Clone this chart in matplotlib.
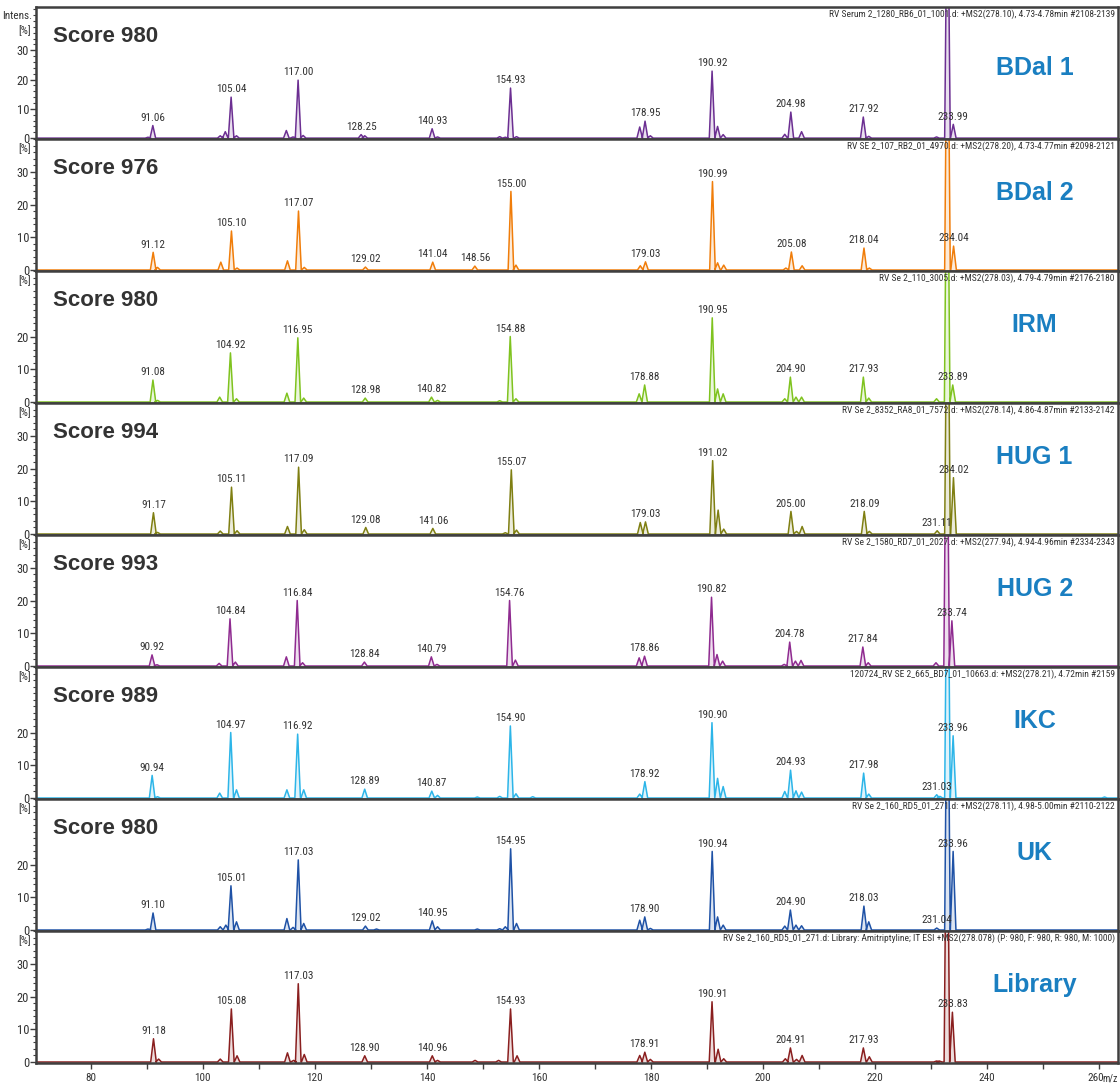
"""Stacked MS2 spectra of amitriptyline from several labs compared with the library spectrum."""

import matplotlib.pyplot as plt
import numpy as np
from matplotlib import font_manager
from matplotlib.ticker import FixedLocator, MultipleLocator
from matplotlib.transforms import ScaledTranslation

# narrow face for the small instrument-style labels, if one is installed
installed = {f.name for f in font_manager.fontManager.ttflist}
narrow_candidates = ["Liberation Sans Narrow", "Roboto Condensed", "Open Sans Condensed",
                     "Noto Sans Condensed", "DejaVu Sans Condensed", "Liberation Sans"]
narrow = next((name for name in narrow_candidates if name in installed), "DejaVu Sans")
plt.rcParams["font.family"] = [narrow, "DejaVu Sans"]
BOLD_FAMILY = ["Liberation Sans", "DejaVu Sans"]

# ---- data -------------------------------------------------------------
panel_names = ["BDal 1", "BDal 2", "IRM", "HUG 1", "HUG 2", "IKC", "UK", "Library"]
panel_scores = [980, 976, 980, 994, 993, 989, 980, None]
panel_headers = [
    "RV Serum 2_1280_RB6_01_1001.d: +MS2(278.10), 4.73-4.78min #2108-2139",
    "RV SE 2_107_RB2_01_4970.d: +MS2(278.20), 4.73-4.77min #2098-2121",
    "RV Se 2_110_3005.d: +MS2(278.03), 4.79-4.79min #2176-2180",
    "RV Se 2_8352_RA8_01_7572.d: +MS2(278.14), 4.86-4.87min #2133-2142",
    "RV Se 2_1580_RD7_01_2027.d: +MS2(277.94), 4.94-4.96min #2334-2343",
    "120724_RV SE 2_665_BD7_01_10663.d: +MS2(278.21), 4.72min #2159",
    "RV Se 2_160_RD5_01_271.d: +MS2(278.11), 4.98-5.00min #2110-2122",
    "RV Se 2_160_RD5_01_271.d: Library: Amitriptyline; IT ESI +MS2(278.078) "
    "(P: 980, F: 980, R: 980, M: 1000)",
]
panel_colors = ["#6c2f92", "#f07d0a", "#7fc31f", "#7f7f12",
                "#8f2b90", "#2cb5e8", "#1f52a6", "#8a1f1f"]
panel_ymax = [44.8, 40, 40, 40, 40, 40, 40, 40]
panel_yticks = [[0, 10, 20, 30], [0, 10, 20, 30], [0, 10, 20], [0, 10, 20, 30],
                [0, 10, 20, 30], [0, 10, 20], [0, 10, 20], [0, 10, 20, 30]]

# labelled peaks (m/z, intensity %)
bdal1_labeled = [(91.06, 4.3), (105.04, 14.0), (117.00, 19.8), (128.25, 1.2),
                 (140.93, 3.2), (154.93, 17.1), (178.95, 5.8), (190.92, 22.9),
                 (204.98, 8.9), (217.92, 7.2), (233.99, 4.7)]
bdal2_labeled = [(91.12, 5.4), (105.10, 11.9), (117.07, 18.0), (129.02, 0.9),
                 (141.04, 2.4), (148.56, 1.2), (155.00, 24.0), (179.03, 2.5),
                 (190.99, 27.0), (205.08, 5.5), (218.04, 6.7), (234.04, 7.3)]
irm_labeled = [(91.08, 6.7), (104.92, 15.0), (116.95, 19.6), (128.98, 1.2),
               (140.82, 1.5), (154.88, 20.0), (178.88, 5.2), (190.95, 25.7),
               (204.90, 7.6), (217.93, 7.6), (233.89, 5.2)]
hug1_labeled = [(91.17, 6.5), (105.11, 14.3), (117.09, 20.4), (129.08, 2.0),
                (141.06, 1.7), (155.07, 19.6), (179.03, 3.7), (191.02, 22.4),
                (205.00, 6.9), (218.09, 6.9), (231.11, 1.0), (234.02, 17.2)]
hug2_labeled = [(90.92, 3.4), (104.84, 14.4), (116.84, 20.0), (128.84, 1.2),
                (140.79, 2.8), (154.76, 20.0), (178.86, 3.0), (190.82, 21.0),
                (204.78, 7.3), (217.84, 5.8), (233.74, 13.8)]
ikc_labeled = [(90.94, 6.9), (104.97, 20.0), (116.92, 19.5), (128.89, 2.7),
               (140.87, 2.1), (154.90, 22.0), (178.92, 5.0), (190.90, 23.0),
               (204.93, 8.5), (217.98, 7.6), (231.03, 1.0), (233.96, 19.0)]
uk_labeled = [(91.10, 5.2), (105.01, 13.5), (117.03, 21.4), (129.02, 1.2),
              (140.95, 2.8), (154.95, 24.8), (178.90, 4.0), (190.94, 24.0),
              (204.90, 6.1), (218.03, 7.3), (231.04, 0.6), (233.96, 24.0)]
library_labeled = [(91.18, 7.1), (105.08, 16.2), (117.03, 23.9), (128.90, 1.9),
                   (140.96, 1.9), (154.93, 16.2), (178.91, 3.0), (190.91, 18.4),
                   (204.91, 4.3), (217.93, 4.3), (233.83, 15.2)]

# unlabelled peaks, including the off-scale base peak near m/z 233
bdal1_minor = [(90.2, 0.3), (103.1, 0.8), (104.0, 2.2), (106.0, 0.8), (114.9, 2.6),
               (116.1, 0.4), (117.9, 0.9), (128.9, 0.8), (141.9, 0.4), (153.0, 0.5),
               (154.0, 0.3), (156.0, 0.5), (178.0, 3.8), (179.9, 0.8), (191.9, 4.0),
               (192.9, 1.2), (203.9, 1.3), (206.9, 2.2), (218.9, 0.6), (231.0, 0.4),
               (232.95, 100)]
bdal2_minor = [(91.9, 0.8), (103.2, 2.4), (106.1, 0.6), (115.1, 2.8), (118.1, 0.8),
               (155.9, 1.5), (178.1, 1.3), (191.9, 2.2), (193.0, 1.5), (204.1, 0.6),
               (207.0, 1.3), (219.0, 0.6), (232.95, 100)]
irm_minor = [(91.9, 0.5), (103.0, 1.5), (106.0, 1.0), (115.0, 2.7), (118.0, 1.2),
             (141.9, 0.5), (153.0, 0.4), (155.9, 1.0), (177.9, 2.5), (191.9, 4.0),
             (192.9, 2.5), (203.9, 1.0), (205.9, 1.5), (206.9, 1.5), (218.9, 1.2),
             (231.0, 1.0), (232.9, 100)]
hug1_minor = [(91.9, 0.5), (103.1, 0.9), (106.1, 1.0), (115.1, 2.3), (118.1, 1.3),
              (154.0, 0.4), (156.0, 1.2), (178.1, 3.5), (192.0, 7.3), (193.0, 1.5),
              (206.0, 0.8), (207.0, 2.3), (219.0, 0.8), (232.95, 100)]
hug2_minor = [(91.8, 0.4), (102.9, 0.8), (105.8, 1.2), (114.9, 2.8), (117.8, 1.0),
              (141.8, 0.5), (155.8, 1.8), (177.9, 2.5), (191.8, 3.5), (192.8, 1.5),
              (203.8, 0.5), (205.8, 1.5), (206.8, 1.7), (218.8, 1.0), (230.9, 1.0),
              (232.8, 100)]
ikc_minor = [(91.9, 0.4), (103.0, 1.5), (106.0, 2.5), (115.0, 2.5), (118.0, 2.5),
             (141.9, 0.8), (149.0, 0.3), (153.0, 0.5), (155.9, 1.3), (158.9, 0.4),
             (178.0, 1.2), (191.9, 6.0), (192.9, 3.5), (203.9, 2.0), (205.9, 2.2),
             (206.9, 1.8), (218.9, 1.2), (231.6, 0.5), (232.95, 100), (261.0, 0.3)]
uk_minor = [(90.2, 0.3), (103.1, 1.0), (104.1, 1.5), (106.0, 2.5), (115.0, 3.5),
            (116.1, 0.8), (118.0, 2.0), (131.0, 0.3), (141.9, 1.0), (149.0, 0.3),
            (153.0, 0.4), (154.0, 1.0), (156.0, 2.0), (178.0, 3.0), (179.9, 0.5),
            (191.9, 4.0), (192.9, 1.5), (203.9, 1.2), (205.9, 1.5), (206.9, 1.3),
            (218.9, 2.5), (232.95, 100)]
library_minor = [(92.1, 0.9), (103.1, 0.9), (106.1, 1.9), (115.1, 2.8), (116.2, 0.5),
                 (118.1, 2.3), (141.9, 0.5), (148.6, 0.5), (152.8, 0.5), (156.1, 1.9),
                 (178.0, 2.0), (179.9, 0.8), (192.0, 3.9), (193.0, 1.0), (204.0, 1.0),
                 (206.0, 0.8), (207.0, 2.0), (219.0, 1.6), (231.0, 0.3), (231.5, 0.3),
                 (232.85, 100)]

labeled_peaks = [bdal1_labeled, bdal2_labeled, irm_labeled, hug1_labeled,
                 hug2_labeled, ikc_labeled, uk_labeled, library_labeled]
minor_peaks = [bdal1_minor, bdal2_minor, irm_minor, hug1_minor,
               hug2_minor, ikc_minor, uk_minor, library_minor]

MZ_MIN, MZ_MAX = 70.2, 263.4
x_ticks = [80, 100, 120, 140, 160, 180, 200, 220, 240, 260]

# ---- layout (pixels) ---------------------------------------------------
W, H = 1120, 1087
AX_LEFT, AX_RIGHT = 36, 1118
PANEL_TOP, PANEL_H = 7, 132
FRAME = "#3f3f3f"
TEXT = "#333333"
LABEL_BLUE = "#1a7fc1"


def stick_profile(peaks, half_width=0.5):
    """Turn a peak list into a triangular profile trace."""
    xs, ys = [MZ_MIN], [0.0]
    for mz, inten in sorted(peaks):
        xs += [mz - half_width, mz, mz + half_width]
        ys += [0.0, inten, 0.0]
    xs.append(MZ_MAX)
    ys.append(0.0)
    return np.array(xs), np.array(ys)


fig = plt.figure(figsize=(W / 100, H / 100), dpi=100)

for i in range(len(panel_names)):
    top = PANEL_TOP + i * PANEL_H
    ax = fig.add_axes([AX_LEFT / W, 1 - (top + PANEL_H) / H,
                       (AX_RIGHT - AX_LEFT) / W, PANEL_H / H])
    color = panel_colors[i]

    x, y = stick_profile(labeled_peaks[i] + minor_peaks[i])
    ax.fill_between(x, 0, y, color=color, alpha=0.15, linewidth=0)
    ax.plot(x, y, color=color, linewidth=1.1)

    for mz, inten in labeled_peaks[i]:
        ax.annotate(f"{mz:.2f}", (mz, inten), xytext=(0, 2), textcoords="offset points",
                    ha="center", va="bottom", fontsize=8, color=TEXT)

    ax.set_xlim(MZ_MIN, MZ_MAX)
    ax.set_ylim(-0.3, panel_ymax[i])
    ax.yaxis.set_major_locator(FixedLocator(panel_yticks[i]))
    ax.yaxis.set_minor_locator(MultipleLocator(2))
    ax.tick_params(axis="y", which="major", length=4, width=1, color=FRAME,
                   labelsize=9, labelcolor=TEXT, pad=1)
    ax.tick_params(axis="y", which="minor", length=2.5, width=0.8, color=FRAME)
    for spine in ax.spines.values():
        spine.set_color(FRAME)
        spine.set_linewidth(1.8)

    ax.text(0.997, 0.985, panel_headers[i], transform=ax.transAxes, ha="right",
            va="top", fontsize=6.8, color=TEXT)
    if panel_scores[i] is not None:
        ax.text(0.016, 0.775, f"Score {panel_scores[i]}", transform=ax.transAxes,
                ha="left", va="center", fontsize=16, fontweight="bold",
                color=TEXT, family=BOLD_FAMILY)
    name_y = 0.54 if i == 0 else 0.588
    ax.text(0.923, name_y, panel_names[i], transform=ax.transAxes, ha="center",
            va="center", fontsize=18, fontweight="bold", color=LABEL_BLUE,
            family=BOLD_FAMILY)

    # "[%]" unit tag at the top of each panel's y axis
    unit_y = 31 if i == 0 else top + 10
    fig.text(31 / W, 1 - unit_y / H, "[%]", ha="right", va="center",
             fontsize=8, color=TEXT)

    if i < len(panel_names) - 1:
        ax.tick_params(axis="x", which="both", bottom=False, labelbottom=False)
    else:
        ax.set_xticks(x_ticks)
        ax.xaxis.set_minor_locator(MultipleLocator(10))
        ax.tick_params(axis="x", which="both", length=4, width=1, color=FRAME,
                       labelsize=8, labelcolor=TEXT, pad=3)
        # pull the last label ("260") left so it clears the m/z unit
        last = ax.xaxis.get_major_ticks()[-1].label1
        last.set_horizontalalignment("right")
        last.set_transform(last.get_transform()
                           + ScaledTranslation(5 / 100, 0, fig.dpi_scale_trans))

fig.text(32 / W, 1 - 16 / H, "Intens.", ha="right", va="center",
         fontsize=8, color=TEXT)
fig.text(1118 / W, 1 - 1078 / H, "m/z", ha="right", va="center",
         fontsize=7, color=TEXT)

fig.savefig("out.png", dpi=100)
